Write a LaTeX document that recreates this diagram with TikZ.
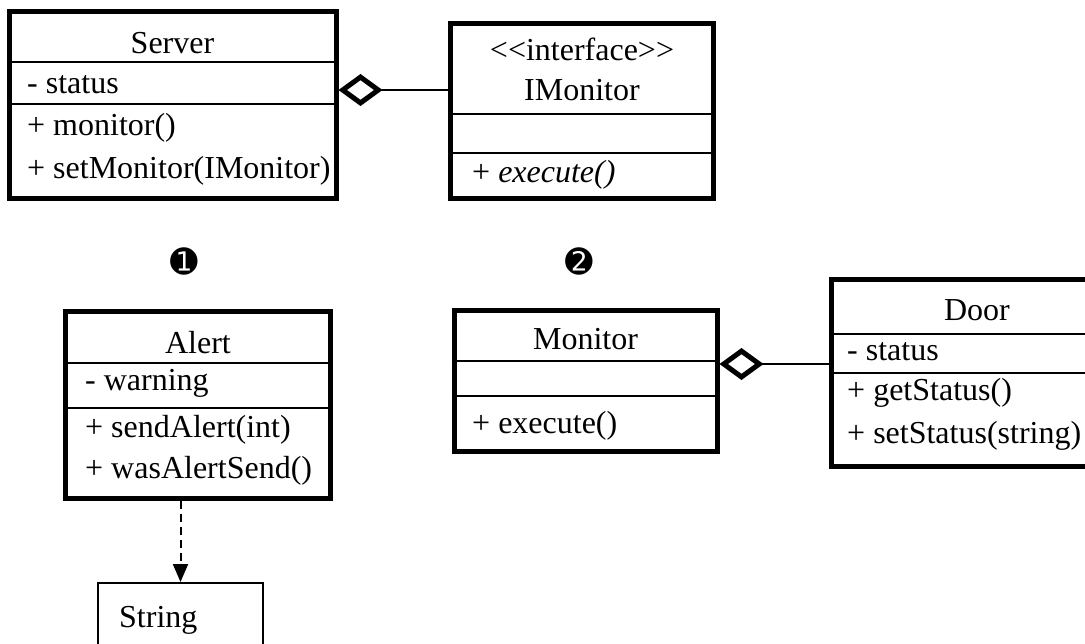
\documentclass[tikz,border=0pt]{standalone}
\usepackage{fontspec}
\setmainfont{Liberation Serif}
\newfontfamily\numfont{DejaVu Sans}
\usetikzlibrary{arrows.meta}

\tikzset{
  umlbox/.style={draw, line width=5pt, inner sep=0pt},
  divider/.style={line width=2pt},
  title/.style={font=\fontsize{32}{38}\selectfont, inner sep=0pt, anchor=base},
  member/.style={font=\fontsize{32}{38}\selectfont, inner sep=0pt, anchor=base west},
  aggr/.style={line width=2pt, {Diamond[open, length=44pt, width=32pt, line width=5pt]}-},
  dep/.style={line width=2pt, dash pattern=on 8pt off 5pt, -{Triangle[length=18pt, width=15pt]}},
  numlabel/.style={font=\numfont\fontsize{33}{33}\selectfont, inner sep=0pt}
}

\begin{document}
\begin{tikzpicture}[x=1pt, y=-1pt]
\useasboundingbox (0,0) rectangle (1085,643);

\begin{scope}
\clip (0,0) rectangle (1085,643);
% Server
\node[umlbox, minimum width=327pt, minimum height=187pt] (srv) at (172.5,104.5) {};
\draw[divider] (srv.west |- 0,62) -- (srv.east |- 0,62);
\draw[divider] (srv.west |- 0,104) -- (srv.east |- 0,104);
\node[title] (srvname) at (172.5,53) {Server};
\node[member] (srvattr) at (27,93) {- status};
\node[member] (srvop1) at (27,135) {+ monitor()};
\node[member] (srvop2) at (27,178) {+ setMonitor(IMonitor)};

% IMonitor
\node[umlbox, minimum width=263pt, minimum height=175pt] (imon) at (582,110.5) {};
\draw[divider] (imon.west |- 0,114) -- (imon.east |- 0,114);
\draw[divider] (imon.west |- 0,153) -- (imon.east |- 0,153);
\node[title] (imonstereo) at (582,60) {<{}<interface>{}>};
\node[title] (imonname) at (582,100) {IMonitor};
\node[member] (imonop) at (472,182) {+ \textit{execute()}};

\draw[aggr] (srv.east |- 0,90) -- (imon.west |- 0,90);

\node[numlabel] (num1) at (184,261) {➊};
\node[numlabel] (num2) at (579,261) {➋};

% Alert
\node[umlbox, minimum width=265pt, minimum height=187pt] (alert) at (198,405) {};
\draw[divider] (alert.west |- 0,363) -- (alert.east |- 0,363);
\draw[divider] (alert.west |- 0,408) -- (alert.east |- 0,408);
\node[title] (alertname) at (198,353) {Alert};
\node[member] (alertattr) at (85,390) {- warning};
\node[member] (alertop1) at (85,437) {+ sendAlert(int)};
\node[member] (alertop2) at (85,478) {+ wasAlertSend()};

% String
\node[draw, line width=2pt, inner sep=0pt, minimum width=165pt, minimum height=97pt] (str) at (180.5,631.5) {};
\node[member] (strname) at (119,627) {String};
\draw[dep] (alert.south -| str.north) -- (str.north);

% Monitor
\node[umlbox, minimum width=263pt, minimum height=141pt] (mon) at (585.5,381) {};
\draw[divider] (mon.west |- 0,361) -- (mon.east |- 0,361);
\draw[divider] (mon.west |- 0,396) -- (mon.east |- 0,396);
\node[title] (monname) at (585.5,349) {Monitor};
\node[member] (monop) at (472,433) {+ execute()};

% Door, cut off by the right edge
\node[inner sep=0pt, outer sep=0pt, minimum width=400pt, minimum height=187pt] (door) at (1031,372.5) {};
\draw[line width=5pt] (door.north east) -- (door.north west) -- (door.south west) -- (door.south east);
\draw[divider] (door.west |- 0,334) -- (door.east |- 0,334);
\draw[divider] (door.west |- 0,373) -- (door.east |- 0,373);
\node[title] (doorname) at (977,320) {Door};
\node[member] (doorattr) at (847,360) {- status};
\node[member] (doorop1) at (847,400) {+ getStatus()};
\node[member] (doorop2) at (847,443) {+ setStatus(string)};

\draw[aggr] (mon.east |- 0,364) -- ([xshift=-2.5pt]door.west |- 0,364);
\end{scope}
\end{tikzpicture}
\end{document}
